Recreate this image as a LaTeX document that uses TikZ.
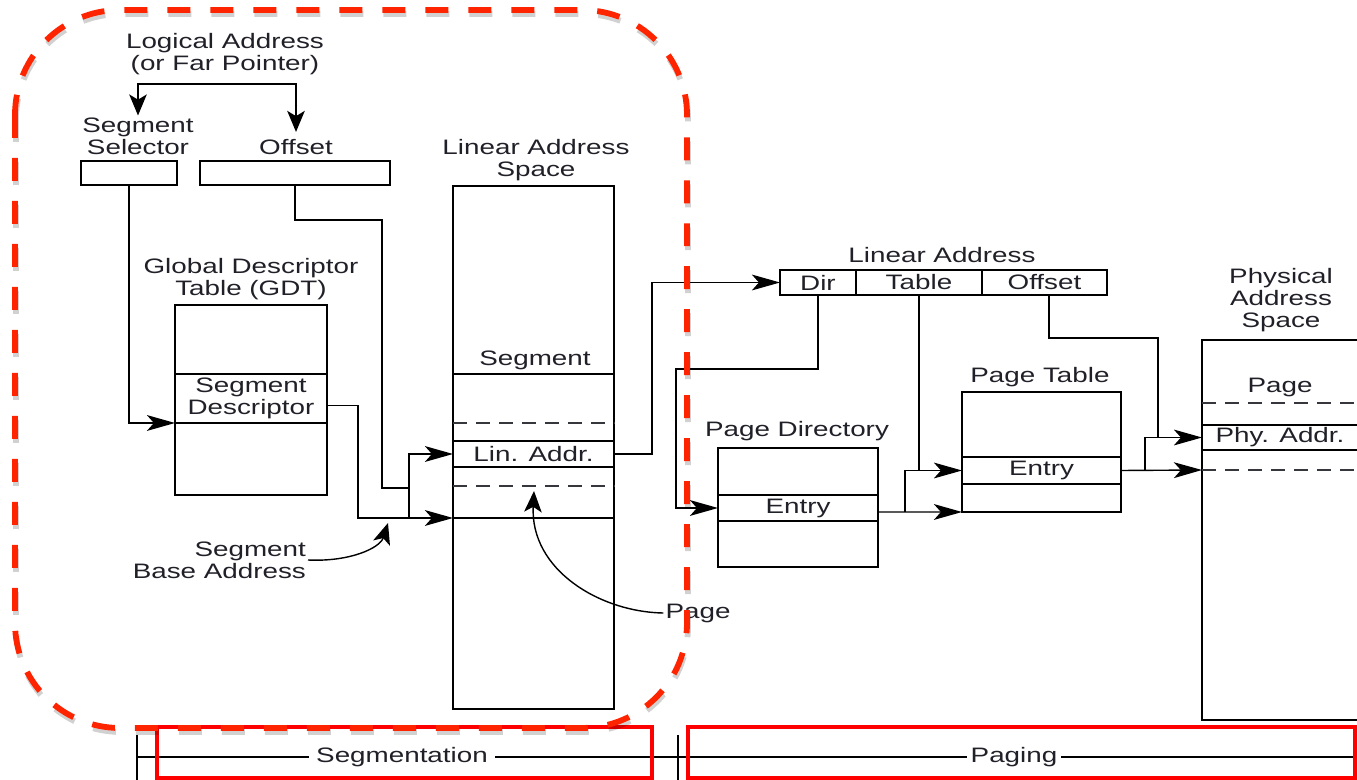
\documentclass[tikz,border=0pt]{standalone}
\usepackage{fontspec}
\setmainfont{Liberation Sans}[FakeStretch=1.33]
\usepackage{tikz}
\usetikzlibrary{arrows.meta,positioning}
\definecolor{segred}{HTML}{FF2400}
\definecolor{boxred}{HTML}{FF0000}
\definecolor{ink}{HTML}{202028}

\begin{document}
\begin{tikzpicture}[x=0.02cm,y=-0.02cm,
font=\fontsize{11.9pt}{12.5pt}\selectfont,
every node/.style={text=ink},
tbl/.style={rectangle,draw,line width=0.8pt,inner sep=0pt,outer sep=0pt},
row/.style={rectangle,inner sep=0pt,outer sep=0pt,minimum height=0.52cm,align=center},
lbl/.style={align=center,inner sep=1pt},
wire/.style={line width=0.8pt},
arr/.style={-{Stealth[length=16pt,width=9pt,inset=4pt]},line width=0.8pt},
varr/.style={-{Stealth[length=12pt,width=10pt,inset=3pt]},line width=0.8pt},
sep/.style={draw=ink!90,line width=0.8pt,dash pattern=on 0.28cm off 0.18cm},
regbox/.style={boxred,line width=2.2pt},
region/.style={line width=3.3pt,dash pattern=on 0.46cm off 0.4cm,rounded corners=2.1cm}]
\useasboundingbox (0,0) rectangle (1357,780);
\clip (0,0) rectangle (1357,780);

% logical address
\node[lbl] (logaddr) at (225,54) {Logical Address\\(or Far Pointer)};
\node[lbl] (sellbl) at (138,136) {Segment\\Selector};
\node[lbl] (offlbl) at (296,147) {Offset};
\node[tbl,minimum width=1.92cm,minimum height=0.48cm] (selbox) at (129,173) {};
\node[tbl,minimum width=3.8cm,minimum height=0.48cm] (offbox) at (295,173) {};
\coordinate (fork) at (225,84);
\draw[varr] (fork) -| (sellbl.north);
\draw[varr,shorten >=3pt] (fork) -| (offlbl.north);

% GDT
\node[lbl] (gdtlbl) at (251,279) {Global Descriptor\\Table (GDT)};
\node[tbl,minimum width=3.04cm,minimum height=3.8cm] (gdt) at (251,400) {};
\node[row,minimum width=3.04cm,minimum height=0.98cm] (gdtdesc) at (251,398.5) {Segment\\Descriptor};
\draw[wire] (gdtdesc.north west) -- (gdtdesc.north east) (gdtdesc.south west) -- (gdtdesc.south east);

% linear address space
\node[lbl] (laslbl) at (536,160) {Linear Address\\Space};
\node[tbl,minimum width=3.22cm,minimum height=10.46cm] (las) at (533.5,447.5) {};
\node[lbl] (lasseg) at (535,360) {Segment};
\node[row,minimum width=3.22cm] (lasaddr) at (533.5,454) {Lin. Addr.};
\foreach \yy in {374,441,467,518}
  \draw[wire] (453,\yy) -- (614,\yy);
\foreach \yy in {423,486}
  \draw[sep] (453,\yy) -- (614,\yy);
\node[lbl,align=right,anchor=east] (sbalbl) at (308,560) {Segment\\Base Address};
\node[lbl] (pagelbl) at (698,613) {Page};
\coordinate (segbase) at (453,518);
\coordinate (basejn) at (409,518);
\coordinate (sbatip) at (388,523);
\coordinate (pagetip) at (534,491);

\draw[arr] (selbox.south) |- (gdtdesc.south west);
\draw[wire] (offbox.south) |- (382,220) -- (382,488) -- (409,488);
\draw[arr] ([yshift=-0.14cm]gdtdesc.east) -| (358,518) -- (segbase);
\draw[arr] (basejn) |- (lasaddr.west);
\draw[varr] (sbalbl.east) .. controls (350,562) and (380,548) .. (sbatip);
\draw[varr] (pagelbl.west) .. controls (600,612) and (530,570) .. (pagetip);

% linear address fields
\node[lbl] (linlbl) at (942,255) {Linear Address};
\node[tbl,minimum width=1.52cm,minimum height=0.5cm] (dir) at (818,282.5) {Dir};
\node[tbl,minimum width=2.52cm,minimum height=0.5cm,right=0cm of dir] (tblf) {Table};
\node[tbl,minimum width=2.5cm,minimum height=0.5cm,right=0cm of tblf] (offf) {Offset};
\draw[arr] (lasaddr.east) -- ++(38,0) |- (dir.west);

% page directory
\node[lbl] (pdlbl) at (797,431) {Page Directory};
\node[tbl,minimum width=3.2cm,minimum height=2.38cm] (pdir) at (798,507.5) {};
\node[row,minimum width=3.2cm] (pdentry) at (798,508) {Entry};
\draw[wire] (pdentry.north west) -- (pdentry.north east) (pdentry.south west) -- (pdentry.south east);

% page table
\node[lbl] (ptlbl) at (1040,377) {Page Table};
\node[tbl,minimum width=3.18cm,minimum height=2.4cm] (ptbl) at (1041.5,452) {};
\node[row,minimum width=3.18cm,minimum height=0.54cm] (ptentry) at (1041.5,470.5) {Entry};
\draw[wire] (ptentry.north west) -- (ptentry.north east) (ptentry.south west) -- (ptentry.south east);

% physical address space
\node[lbl] (physlbl) at (1281,300) {Physical\\Address\\Space};
\node[tbl,minimum width=4.4cm,minimum height=7.6cm] (phys) at (1312,530) {};
\node[lbl] (physpage) at (1280,387) {Page};
\node[row,minimum width=3.12cm,minimum height=0.5cm] (physaddr) at (1280,437.5) {Phy. Addr.};
\draw[wire] (1202,425) -- (1357,425) (1202,450) -- (1357,450);
\draw[sep] (1202,403) -- (1357,403) (1202,470) -- (1357,470);
\coordinate (physlow) at (1202,470);
\coordinate (pjn) at (905,512);
\coordinate (tjn) at (1145,470);

\draw[arr] (dir.south) |- (676,369) |- (pdentry.west);
\draw[arr] (pdentry.east |- pjn) -- (ptbl.south west);
\draw[arr] (pjn) |- (ptentry.west);
\draw[wire] (tblf.south) -- (tblf.south |- ptentry.west);
\draw[arr] (ptentry.east) -- (physlow);
\draw[arr] (tjn) |- (physaddr.west);
\draw[wire] ([xshift=0.09cm]offf.south) |- (1158,338) -- (1158,437.5);

% bottom scale
\draw[wire] (137,735) -- (137,780) (678,735) -- (678,780);
\draw[wire] (137,757) -- (1357,757);
\node[fill=white,inner xsep=4pt,inner ysep=1pt] (seglbl) at (402,757) {Segmentation};
\node[fill=white,inner xsep=2pt,inner ysep=1pt] (paglbl) at (1014,757) {Paging};
\draw[regbox] (157,727) rectangle (652,778);
\draw[regbox] (688,727) rectangle (1355,778);

% segmentation region
\draw[region,draw=black,draw opacity=0.18] (16,14) rectangle (688,732);
\draw[region,draw=segred] (15,10) rectangle (687,728);
\end{tikzpicture}
\end{document}
